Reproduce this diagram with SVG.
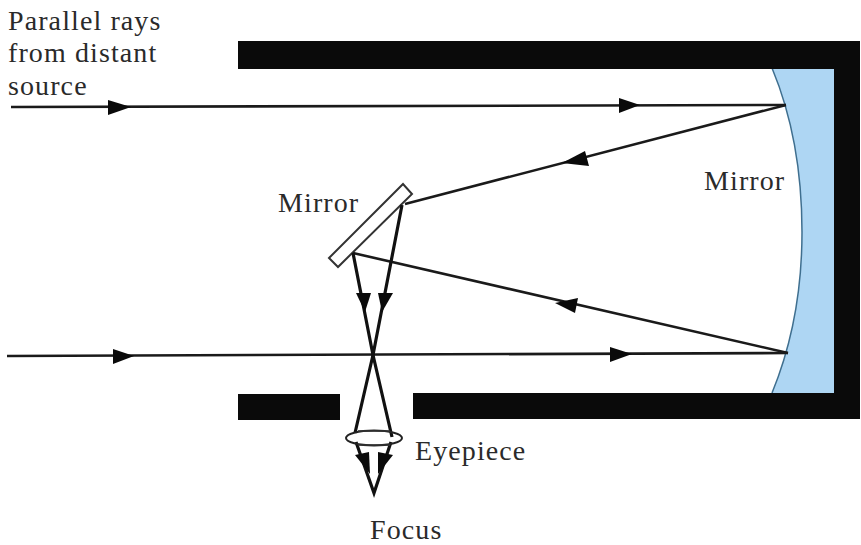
<svg xmlns="http://www.w3.org/2000/svg" width="861" height="545" viewBox="0 0 861 545">
<style>
text{font-family:"Liberation Serif","Times New Roman",serif;font-size:28px;letter-spacing:1.1px;fill:#2a2a2a}
.ray{fill:none;stroke:#1a1a1a;stroke-width:2.6}
.thick{fill:none;stroke:#111;stroke-width:3.2}
.ah{fill:#0a0a0a;stroke:none}
.tube{fill:#0a0a0a}
</style>
<rect width="861" height="545" fill="#fff"/>
<g id="primary-mirror">
<path d="M772 68H834V393H772Q802 320 802 232Q802 140 772 68Z" fill="#aed6f3"/>
<path d="M772 68Q802 140 802 232Q802 320 772 393" fill="none" stroke="#3f6f8f" stroke-width="1.5"/>
</g>
<g id="tube">
<path class="tube" d="M238 41H860V419H413V393H834V69H238Z"/>
<rect class="tube" x="238" y="394" width="102" height="26"/>
</g>
<g id="secondary-mirror">
<path d="M329 258L403 184L412 194L338 267Z" fill="#fff" stroke="#333" stroke-width="2"/>
</g>
<g id="connectors">
<path class="ray" d="M11 107L786 105"/>
<path class="ray" d="M786 105L405 204"/>
<path class="ray" d="M353 253L788 353"/>
<path class="ray" d="M7 356L788 353"/>
<path class="thick" d="M402 205L373 355L355 433"/>
<path class="thick" d="M353 253L373 355L392 437"/>
<path class="thick" d="M356 442L374 493L391 442"/>
<path class="ah" d="M108 100L131 107L108 115Z"/>
<path class="ah" d="M619 98L640 105L619 113Z"/>
<path class="ah" d="M562 163L585 151L589 166Z"/>
<path class="ah" d="M555 303L578 298L575 313Z"/>
<path class="ah" d="M113 349L134 356L113 364Z"/>
<path class="ah" d="M610 347L632 354L610 362Z"/>
<path class="ah" d="M356 293L371 293L365 312Z"/>
<path class="ah" d="M378 293L393 293L382 312Z"/>
<path class="ah" d="M355 455L369 452L370 474Z"/>
<path class="ah" d="M378 452L393 455L378 474Z"/>
</g>
<g id="eyepiece">
<ellipse cx="374" cy="438" rx="28" ry="7.5" fill="none" stroke="#222" stroke-width="2"/>
<path d="M358 431H390M358 445H390" stroke="#333" stroke-width="1.5" fill="none"/>
</g>
<g id="labels">
<text x="8" y="30">Parallel rays</text>
<text x="8" y="62">from distant</text>
<text x="8" y="95">source</text>
<text x="278" y="212">Mirror</text>
<text x="704" y="190">Mirror</text>
<text x="415" y="460">Eyepiece</text>
<text x="370" y="539">Focus</text>
</g>
</svg>
